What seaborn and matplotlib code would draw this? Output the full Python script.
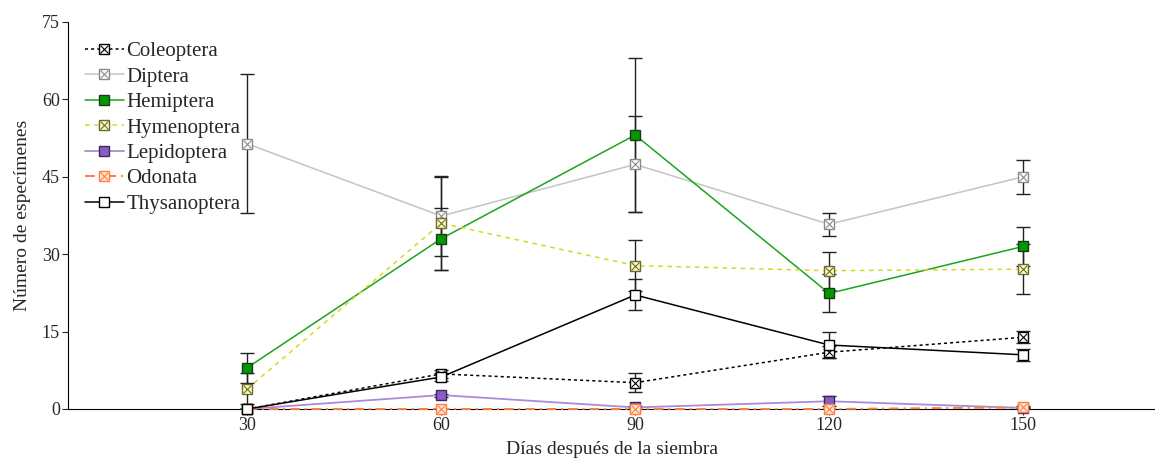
import matplotlib
matplotlib.use("Agg")
import matplotlib.pyplot as plt
import seaborn as sns
import pandas as pd
from matplotlib.lines import Line2D
from matplotlib.legend_handler import HandlerTuple

# -----------------------
# DATA
# -----------------------
days = [30, 60, 90, 120, 150]

coleoptera = [0.0, 6.8, 5.1, 11.0, 13.9]
coleoptera_err = [0.0, 0.8, 1.9, 1.2, 1.2]
diptera = [51.4, 37.4, 47.4, 35.8, 45.0]
diptera_err = [13.5, 7.8, 9.3, 2.2, 3.3]
hemiptera = [8.0, 33.0, 53.1, 22.4, 31.5]
hemiptera_err = [2.9, 6.0, 14.9, 3.7, 3.7]
hymenoptera = [3.9, 36.0, 27.8, 26.8, 27.1]
hymenoptera_err = [3.0, 9.0, 5.0, 3.7, 4.8]
lepidoptera = [0.0, 2.7, 0.3, 1.5, 0.2]
lepidoptera_err = [0.0, 0.3, 0.3, 1.0, 0.2]
odonata = [0.0, 0.0, 0.0, 0.0, 0.3]
odonata_err = [0.0, 0.0, 0.0, 0.0, 0.2]
thysanoptera = [0.0, 6.2, 22.1, 12.4, 10.5]
thysanoptera_err = [0.0, 0.8, 3.0, 2.6, 1.2]

names = ["Coleoptera", "Diptera", "Hemiptera", "Hymenoptera",
         "Lepidoptera", "Odonata", "Thysanoptera"]
values = [coleoptera, diptera, hemiptera, hymenoptera,
          lepidoptera, odonata, thysanoptera]
errors = [coleoptera_err, diptera_err, hemiptera_err, hymenoptera_err,
          lepidoptera_err, odonata_err, thysanoptera_err]

# line colour, line style, line width, marker face, marker edge, boxed X?
styles = {
    "Coleoptera":   ("#000000", (0, (2, 2)), 1.1, "#ffffff", "#000000", True),
    "Diptera":      ("#c4c4c4", "-", 1.1, "#ffffff", "#8a8a8a", True),
    "Hemiptera":    ("#1aa51a", "-", 1.1, "#009900", "#1a3a1a", False),
    "Hymenoptera":  ("#d8d820", (0, (3, 3)), 1.1, "#ffffc0", "#6a6a30", True),
    "Lepidoptera":  ("#a98bd6", "-", 1.3, "#8a5cc4", "#3a2a5a", False),
    "Odonata":      ("#ff7f3f", (0, (5, 2.5, 1, 2.5)), 1.4, "#ffe8d8", "#ff7f3f", True),
    "Thysanoptera": ("#000000", "-", 1.1, "#ffffff", "#000000", False),
}
# draw order: low series last so they stay visible on the axis
draw_order = {"Odonata": 6, "Lepidoptera": 5, "Thysanoptera": 7,
              "Coleoptera": 4, "Hymenoptera": 3, "Diptera": 2, "Hemiptera": 3}

df = pd.DataFrame({
    "day": days * len(names),
    "count": [v for vals in values for v in vals],
    "err": [e for errs in errors for e in errs],
    "taxon": [n for n in names for _ in days],
})

# -----------------------
# PLOT
# -----------------------
sns.set_theme(style="white")
plt.rcParams["font.family"] = ["Liberation Serif", "DejaVu Serif"]

fig = plt.figure(figsize=(11.55, 4.58), dpi=100)
ax = fig.add_axes([0.059, 0.107, 0.941, 0.845])

handles = []
for name in names:
    color, ls, lw, face, edge, boxed = styles[name]
    z = draw_order[name]
    sub = df[df["taxon"] == name]
    ax.errorbar(sub["day"], sub["count"], yerr=sub["err"], fmt="none",
                ecolor="#222222", elinewidth=1.0, capsize=5, capthick=1.0,
                zorder=2.8)
    sns.lineplot(data=sub, x="day", y="count", ax=ax, color=color,
                 linestyle=ls, linewidth=lw, marker="s", markersize=7.5,
                 markerfacecolor=face, markeredgecolor=edge,
                 markeredgewidth=1.0, zorder=3 + z * 0.1, legend=False,
                 clip_on=False)
    h_line = Line2D([], [], color=color, linestyle=ls, linewidth=lw,
                    marker="s", markersize=7.5, markerfacecolor=face,
                    markeredgecolor=edge)
    if boxed:
        ax.plot(sub["day"], sub["count"], linestyle="none", marker="x",
                markersize=5.5, markeredgecolor=edge, markeredgewidth=0.8,
                zorder=3.05 + z * 0.1, clip_on=False)
        h_x = Line2D([], [], linestyle="none", marker="x", markersize=5.5,
                     markeredgecolor=edge, markeredgewidth=0.8)
        handles.append((h_line, h_x))
    else:
        handles.append(h_line)

ax.set_xlim(2.3, 170.4)
ax.set_ylim(0, 75)
ax.set_xticks(days)
ax.set_yticks([0, 15, 30, 45, 60, 75])
ax.tick_params(axis="both", labelsize=13, length=4, width=0.8,
               direction="out", bottom=True, left=True, pad=2)
for side in ["top", "right"]:
    ax.spines[side].set_visible(False)
for side in ["left", "bottom"]:
    ax.spines[side].set_color("#000000")
    ax.spines[side].set_linewidth(0.8)
    ax.spines[side].set_zorder(1)

ax.set_xlabel("Días después de la siembra", fontsize=14, labelpad=5)
ax.set_ylabel("Número de especímenes", fontsize=14, labelpad=8)

ax.legend(handles, names, handler_map={tuple: HandlerTuple(ndivide=1)},
          loc="upper left", bbox_to_anchor=(-0.003, 1.0), frameon=False,
          fontsize=15, handlelength=1.9, handletextpad=0.1,
          labelspacing=0.28, borderaxespad=0.55)

fig.savefig("out.png", dpi=100)
